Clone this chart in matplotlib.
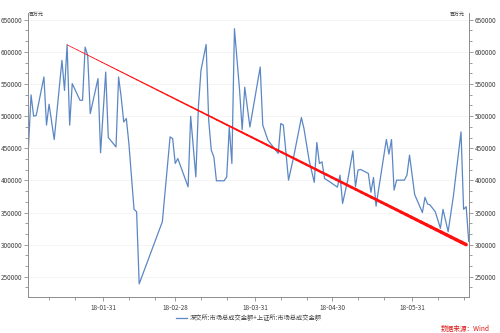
import matplotlib
matplotlib.use("Agg")
import numpy as np
import pandas as pd
import matplotlib.pyplot as plt
import matplotlib.dates as mdates
from matplotlib.collections import LineCollection
from matplotlib.ticker import MultipleLocator, AutoMinorLocator, FuncFormatter

plt.rcParams['font.family'] = ['Noto Sans CJK SC', 'DejaVu Sans']

# 两市合计成交额（百万元）
dates = [
    '2018-01-02', '2018-01-03', '2018-01-04', '2018-01-05', '2018-01-08', '2018-01-09',
    '2018-01-10', '2018-01-12', '2018-01-15', '2018-01-16', '2018-01-17', '2018-01-18',
    '2018-01-19', '2018-01-22', '2018-01-23', '2018-01-24', '2018-01-25', '2018-01-26',
    '2018-01-29', '2018-01-30', '2018-02-01', '2018-02-02', '2018-02-05', '2018-02-06',
    '2018-02-07', '2018-02-08', '2018-02-09', '2018-02-10', '2018-02-12', '2018-02-13',
    '2018-02-14', '2018-02-23', '2018-02-26', '2018-02-27', '2018-02-28', '2018-03-01',
    '2018-03-05', '2018-03-06', '2018-03-08', '2018-03-09', '2018-03-10', '2018-03-12',
    '2018-03-13', '2018-03-14', '2018-03-15', '2018-03-16', '2018-03-19', '2018-03-20',
    '2018-03-21', '2018-03-22', '2018-03-23', '2018-03-25', '2018-03-26', '2018-03-27',
    '2018-03-29', '2018-04-02', '2018-04-03', '2018-04-05', '2018-04-07', '2018-04-09',
    '2018-04-10', '2018-04-11', '2018-04-13', '2018-04-15', '2018-04-18', '2018-04-19',
    '2018-04-21', '2018-04-23', '2018-04-24', '2018-04-25', '2018-04-26', '2018-04-27',
    '2018-04-29', '2018-05-02', '2018-05-03', '2018-05-04', '2018-05-06', '2018-05-08',
    '2018-05-09', '2018-05-10', '2018-05-11', '2018-05-14', '2018-05-15', '2018-05-16',
    '2018-05-17', '2018-05-21', '2018-05-22', '2018-05-23', '2018-05-24', '2018-05-25',
    '2018-05-28', '2018-05-29', '2018-05-30', '2018-06-01', '2018-06-04', '2018-06-05',
    '2018-06-06', '2018-06-07', '2018-06-09', '2018-06-11', '2018-06-12', '2018-06-14',
    '2018-06-16', '2018-06-19', '2018-06-20', '2018-06-21', '2018-06-22',
]
turnover = [
    452000, 533000, 500000, 501000, 561000, 486000,
    518500, 463600, 586800, 540000, 611000, 486000,
    550600, 524700, 524700, 607400, 594500, 504000,
    558400, 443000, 568600, 466700, 452100, 561000,
    529700, 491000, 496300, 457400, 355000, 351200,
    239000, 335700, 467700, 465000, 426400, 434000,
    390000, 499800, 405500, 514300, 571300, 611500,
    493600, 447000, 436600, 399400, 399400, 405500,
    483000, 426400, 636000, 540000, 479000, 545000,
    483000, 576400, 486000, 462600, 452200, 442000,
    488500, 486000, 400400, 436600, 497800, 480700,
    431500, 397000, 459000, 426400, 428900, 403000,
    397800, 389500, 408200, 364200, 400400, 446000,
    390000, 416000, 417000, 410800, 381500, 404500,
    360000, 463600, 440800, 463600, 384900, 400400,
    400400, 408200, 439300, 378000, 350000, 373600,
    363300, 361600, 351200, 325400, 354900, 320200,
    374500, 475400, 355000, 359000, 305000,
]

# 趋势线端点
trend_dates = ['2018-01-17', '2018-06-21']
trend_values = [611000, 300000]

series_label = '深交所:市场总成交金额+上证所:市场总成交金额'
unit = '百万元'
source = '数据来源：Wind'

x = pd.to_datetime(dates)

fig = plt.figure(figsize=(5, 3.33), dpi=100)
ax = fig.add_axes([0.0554, 0.109, 0.8826, 0.851])

ax.plot(x, turnover, color='#5b87c4', lw=0.9, label=series_label, zorder=2)

# red trend line, widening towards its end
tx = mdates.date2num(pd.to_datetime(trend_dates))
n = 80
xs = np.linspace(tx[0], tx[1], n + 1)
ys = np.linspace(trend_values[0], trend_values[1], n + 1)
segs = np.stack([np.column_stack([xs[:-1], ys[:-1]]),
                 np.column_stack([xs[1:], ys[1:]])], axis=1)
lc = LineCollection(segs, colors='#ff1010', linewidths=np.linspace(0.5, 2.5, n),
                    capstyle='round', zorder=3)
ax.add_collection(lc)

ax.set_xlim(mdates.date2num(pd.Timestamp('2018-01-02')) - 0.3,
            mdates.date2num(pd.Timestamp('2018-06-22')) + 0.1)
ax.set_ylim(219000, 660000)

ax.xaxis.set_major_locator(mdates.MonthLocator(bymonthday=-1))
ax.xaxis.set_minor_locator(mdates.DayLocator(bymonthday=[10, 20]))
ax.xaxis.set_major_formatter(mdates.DateFormatter('%y-%m-%d'))
ax.yaxis.set_major_locator(MultipleLocator(50000))
ax.yaxis.set_minor_locator(AutoMinorLocator(3))
ax.yaxis.set_major_formatter(FuncFormatter(lambda v, p: f'{v:.0f}'))

ax.tick_params(axis='both', which='both', direction='out', color='#8c8c8c',
               width=0.6, labelsize=4.6, labelcolor='#404040', pad=1)
ax.tick_params(axis='both', which='major', length=3)
ax.tick_params(axis='both', which='minor', length=2.5)
ax.tick_params(axis='x', pad=2.5)
ax.tick_params(axis='y', which='both', left=True, right=True,
               labelleft=True, labelright=True)

for side in ['left', 'right', 'bottom']:
    ax.spines[side].set_color('#8c8c8c')
    ax.spines[side].set_linewidth(0.7)
ax.spines['top'].set_visible(False)

ax.grid(axis='y', color='#f2f2f2', lw=0.6, zorder=0)
ax.set_axisbelow(True)

ax.text(0.002, 0.996, unit, transform=ax.transAxes, fontsize=3.6,
        ha='left', va='center', color='#404040')
ax.text(0.991, 0.996, unit, transform=ax.transAxes, fontsize=3.6,
        ha='right', va='center', color='#404040')

fig.legend(loc='center', bbox_to_anchor=(0.498, 0.045), frameon=False,
           fontsize=4.5, handlelength=1.7, handletextpad=0.4,
           labelcolor='#404040')

fig.text(0.979, 0.011, source, color='#e01818', fontsize=4.8,
         ha='right', va='center', style='italic')

fig.savefig('out.png', dpi=100, facecolor='white')
